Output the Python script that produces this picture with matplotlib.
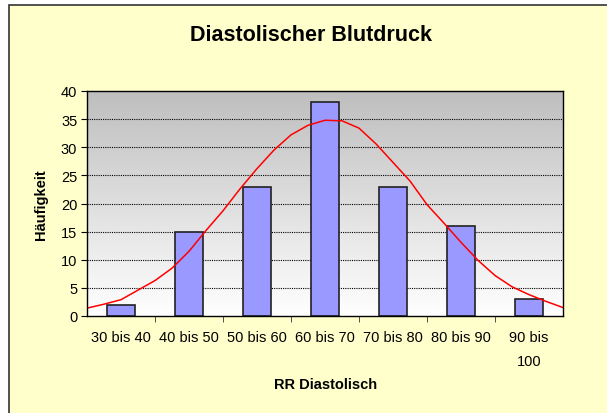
import numpy as np
import matplotlib.pyplot as plt
from matplotlib.patches import Rectangle
from matplotlib.colors import LinearSegmentedColormap

plt.rcParams['font.family'] = ['Liberation Sans', 'DejaVu Sans']

categories = ['30 bis 40', '40 bis 50', '50 bis 60', '60 bis 70', '70 bis 80', '80 bis 90', '90 bis\n100']
counts = [2, 15, 23, 38, 23, 16, 3]

# smoothed normal curve, read at quarter-category steps
curve_pos = [-0.5, -0.25, 0, 0.25, 0.5, 0.75, 1, 1.25, 1.5, 1.75, 2, 2.25, 2.5, 2.75, 3,
             3.25, 3.5, 3.75, 4, 4.25, 4.5, 4.75, 5, 5.25, 5.5, 5.75, 6, 6.25, 6.5]
curve_val = [1.4, 2.1, 2.9, 4.6, 6.3, 8.5, 11.5, 15.2, 18.7, 22.6, 26.2, 29.5, 32.2, 33.9, 34.8,
             34.7, 33.4, 30.6, 27.3, 24.0, 19.8, 16.5, 13.1, 9.9, 7.2, 5.2, 3.8, 2.6, 1.5]

fig = plt.figure(figsize=(6.07, 4.14), dpi=100)
fig.patch.set_facecolor('white')
fig.patches.append(Rectangle((9/607, -0.05), 1.2, 1 - 6/414 + 0.05, transform=fig.transFigure,
                             facecolor='#FFFFCC', edgecolor='#333333', linewidth=1.2, zorder=-5))

ax = fig.add_axes([87/607, 1 - 317/414, 476/607, 225/414])
ax.set_zorder(2)
ax.set_xlim(-0.5, 6.5)
ax.set_ylim(0, 40)

bg = LinearSegmentedColormap.from_list('bg', ['#FFFFFF', '#BEBEBE'])
grad = np.linspace(0, 1, 256).reshape(-1, 1)
ax.imshow(grad, extent=[-0.5, 6.5, 0, 40], aspect='auto', cmap=bg, origin='lower', zorder=0)

for y in range(5, 40, 5):
    ax.axhline(y, color='black', linestyle=(0, (1, 1)), linewidth=0.8, zorder=1)

x = np.arange(len(categories))
ax.bar(x, counts, width=0.41, color='#9999FF', edgecolor='#222222', linewidth=1.2, zorder=2)
ax.plot(curve_pos, curve_val, color='red', linewidth=1.1, zorder=3)

ax.set_yticks(range(0, 41, 5))
ax.set_xticks(x)
ax.set_xticklabels(categories, fontsize=10.5, linespacing=1.9)
ax.set_xticks(np.arange(0.5, 6.5, 1), minor=True)
ax.tick_params(axis='x', which='major', length=0, pad=10)
ax.tick_params(axis='x', which='minor', length=4, direction='out', color='#333333')
ax.tick_params(axis='y', labelsize=10.5, length=4, direction='out', pad=3)
for s in ax.spines.values():
    s.set_color('black')
    s.set_linewidth(1)
    s.set_zorder(4)

fig.text(311/607, 1 - 36/414, 'Diastolischer Blutdruck', ha='center', va='center',
         fontsize=15.5, fontweight='bold')
fig.text(326/607, 1 - 385/414, 'RR Diastolisch', ha='center', va='center',
         fontsize=10.5, fontweight='bold')
fig.text(41/607, 1 - 205/414, 'Häufigkeit', ha='center', va='center', rotation=90,
         fontsize=10.5, fontweight='bold')

fig.savefig('out.png', dpi=100, facecolor=fig.get_facecolor())
